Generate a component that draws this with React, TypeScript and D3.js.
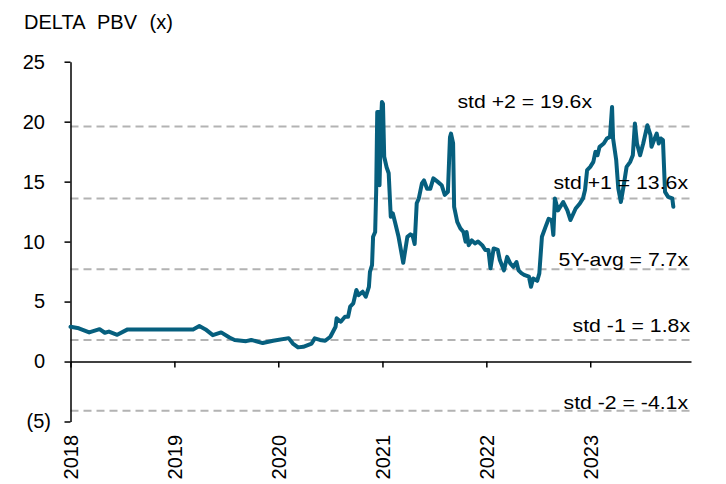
import { useEffect, useRef } from 'react'
import * as d3 from 'd3'

// decimal-year positions and PBV multiple
const dates = [
  2018.0, 2018.08, 2018.18, 2018.28, 2018.33, 2018.37, 2018.45, 2018.55, 2018.86, 2019.18,
  2019.24, 2019.3, 2019.37, 2019.45, 2019.53, 2019.58, 2019.69, 2019.74, 2019.85, 2019.95,
  2020.1, 2020.14, 2020.19, 2020.24, 2020.32, 2020.35, 2020.4, 2020.45, 2020.5, 2020.55,
  2020.56, 2020.6, 2020.64, 2020.67, 2020.69, 2020.72, 2020.75, 2020.77, 2020.81, 2020.84,
  2020.87, 2020.88, 2020.9, 2020.91, 2020.93, 2020.94, 2020.95, 2020.965, 2020.972, 2020.986,
  2020.995, 2021.005, 2021.017, 2021.04, 2021.06, 2021.08, 2021.1, 2021.12, 2021.155, 2021.2,
  2021.24, 2021.27, 2021.29, 2021.31, 2021.33, 2021.35, 2021.38, 2021.4, 2021.43, 2021.46,
  2021.49, 2021.53, 2021.57, 2021.6, 2021.63, 2021.65, 2021.66, 2021.68, 2021.69, 2021.72,
  2021.75, 2021.78, 2021.8, 2021.81, 2021.83, 2021.86, 2021.89, 2021.92, 2021.96, 2021.99,
  2022.02, 2022.04, 2022.07, 2022.11, 2022.13, 2022.17, 2022.2, 2022.23, 2022.26, 2022.29,
  2022.31, 2022.34, 2022.37, 2022.41, 2022.43, 2022.45, 2022.49, 2022.51, 2022.535, 2022.57,
  2022.6, 2022.63, 2022.645, 2022.66, 2022.69, 2022.74, 2022.78, 2022.81, 2022.86, 2022.9,
  2022.93, 2022.95, 2022.97, 2023.0, 2023.03, 2023.05, 2023.07, 2023.09, 2023.13, 2023.16,
  2023.19, 2023.21, 2023.22, 2023.25, 2023.27, 2023.295, 2023.32, 2023.35, 2023.385, 2023.41,
  2023.43, 2023.45, 2023.48, 2023.51, 2023.55, 2023.58, 2023.59, 2023.62, 2023.64, 2023.66,
  2023.68, 2023.7, 2023.72, 2023.75, 2023.79, 2023.8
]

const pbv = [
  2.9, 2.77, 2.43, 2.7, 2.4, 2.5, 2.23, 2.68, 2.68, 2.68,
  2.96, 2.68, 2.2, 2.43, 2.0, 1.8, 1.7, 1.8, 1.54, 1.73,
  1.95, 1.5, 1.18, 1.23, 1.5, 1.93, 1.8, 1.73, 2.07, 2.9,
  3.6, 3.32, 3.73, 3.73, 4.57, 4.85, 5.96, 5.54, 5.82, 5.4,
  6.23, 7.48, 8.04, 10.4, 10.8, 14.3, 20.8, 20.8, 14.7, 19.85,
  21.65, 21.5, 17.07, 16.2, 15.7, 12.07, 12.35, 11.65, 10.4, 8.23,
  10.4, 10.6, 10.5, 9.8, 13.2, 13.6, 14.85, 15.1, 14.4, 14.4,
  15.27, 15.0, 14.7, 13.9, 14.15, 18.7, 19.0, 18.2, 12.9, 11.65,
  11.1, 10.8, 10.0, 10.8, 9.7, 10.1, 9.85, 10.0, 9.7, 9.3,
  9.3, 7.77, 9.43, 9.3, 8.46, 7.6, 8.73, 8.18, 7.9, 8.3,
  7.6, 7.35, 7.2, 7.07, 6.23, 6.93, 6.73, 7.35, 10.4, 11.23,
  11.9, 11.8, 10.55, 13.6, 12.6, 13.3, 12.6, 11.8, 12.76, 13.18,
  13.6, 14.3, 15.96, 16.23, 16.65, 17.48, 17.2, 17.9, 18.18, 18.6,
  18.73, 21.23, 18.6, 16.8, 14.43, 13.3, 14.57, 16.23, 16.65, 17.2,
  19.85, 18.18, 17.2, 18.18, 19.7, 18.87, 17.9, 18.6, 19.0, 18.18,
  18.6, 18.46, 14.15, 13.73, 13.6, 12.9
]

const bandValues = [19.6, 13.6, 7.7, 1.8, -4.1]
const bandLabels = ['std +2 = 19.6x', 'std +1 = 13.6x', '5Y-avg = 7.7x', 'std -1 = 1.8x', 'std -2 = -4.1x']
const yTicks = [25, 20, 15, 10, 5, 0, -5]
const yearTicks = [2018, 2019, 2020, 2021, 2022, 2023]

const toDate = (dy: number) => {
  const y = Math.floor(dy)
  const a = Date.UTC(y, 0, 1)
  const b = Date.UTC(y + 1, 0, 1)
  return new Date(a + (dy - y) * (b - a))
}

export default function App() {
  const svgRef = useRef<SVGSVGElement>(null)

  useEffect(() => {
    if (!svgRef.current) return
    const svg = d3.select(svgRef.current)
    svg.selectAll('*').remove()

    const font = '"Liberation Sans", Arial, sans-serif'
    const series = dates.map((d, i) => ({ date: toDate(d), v: pbv[i] }))

    const x = d3.scaleUtc()
      .domain([toDate(2018), toDate(2023.97)])
      .range([70.5, 691])
    const y = d3.scaleLinear()
      .domain([-5, 25])
      .range([421.5, 61.7])

    // title
    svg.append('text')
      .attr('x', 24)
      .attr('y', 29)
      .attr('font-family', font)
      .attr('font-size', 20)
      .attr('word-spacing', 7)
      .attr('fill', '#000')
      .text('DELTA PBV (x)')

    // dashed std / average lines
    svg.append('g')
      .selectAll('line')
      .data(bandValues)
      .join('line')
      .attr('x1', x.range()[0])
      .attr('x2', x.range()[1])
      .attr('y1', d => y(d))
      .attr('y2', d => y(d))
      .attr('stroke', '#b3b3b3')
      .attr('stroke-width', 2)
      .attr('stroke-dasharray', '8,5')

    // x axis sitting on zero
    const xAxis = svg.append('g')
      .attr('transform', `translate(0,${y(0)})`)
      .call(d3.axisBottom(x)
        .tickValues(yearTicks.map(toDate))
        .tickSize(6)
        .tickSizeOuter(0)
        .tickFormat(d => d3.utcFormat('%Y')(d as Date)))
    xAxis.select('.domain').attr('stroke', '#000').attr('stroke-width', 1.5)
    xAxis.selectAll('.tick line').attr('stroke', '#000').attr('stroke-width', 1.5)
    xAxis.selectAll('text')
      .attr('font-family', font)
      .attr('font-size', 20)
      .attr('fill', '#000')
      .attr('y', 0)
      .attr('x', -(435 - y(0)))
      .attr('dy', '0.36em')
      .attr('transform', 'rotate(-90)')
      .style('text-anchor', 'end')

    // y axis
    const yAxis = svg.append('g')
      .attr('transform', `translate(${x.range()[0]},0)`)
      .call(d3.axisLeft(y)
        .tickValues(yTicks)
        .tickSize(6)
        .tickSizeOuter(0)
        .tickPadding(19.5)
        .tickFormat(d => (+d < 0 ? `(${-d})` : `${d}`)))
    yAxis.select('.domain').attr('stroke', '#000').attr('stroke-width', 1.5)
    yAxis.selectAll('.tick line').attr('stroke', '#000').attr('stroke-width', 1.5)
    yAxis.selectAll<SVGTextElement, number>('text')
      .attr('font-family', font)
      .attr('font-size', 20)
      .attr('fill', '#000')
      .attr('x', d => (d < 0 ? -19.5 : -25.5))

    // PBV line
    const line = d3.line<typeof series[0]>()
      .x(d => x(d.date))
      .y(d => y(d.v))

    svg.append('path')
      .datum(series)
      .attr('fill', 'none')
      .attr('stroke', '#065f7e')
      .attr('stroke-width', 4)
      .attr('stroke-linejoin', 'round')
      .attr('stroke-linecap', 'round')
      .attr('d', line)

    // band labels
    const labelRight = [592, 688, 688, 690, 688]
    const labelDy = [-18, -9, -3.5, -8, -1.5]
    svg.append('g')
      .selectAll('text')
      .data(bandLabels)
      .join('text')
      .attr('transform', (d, i) => `translate(${labelRight[i]},${y(bandValues[i]) + labelDy[i]}) scale(1.18,1)`)
      .attr('text-anchor', 'end')
      .attr('font-family', font)
      .attr('font-size', 18)
      .attr('fill', '#000')
      .text(d => d)
  }, [])

  return (
    <div style={{ position: 'absolute', left: 0, top: 0 }}>
      <svg ref={svgRef} width={726} height={484} style={{ display: 'block', background: '#fff' }} />
    </div>
  )
}
